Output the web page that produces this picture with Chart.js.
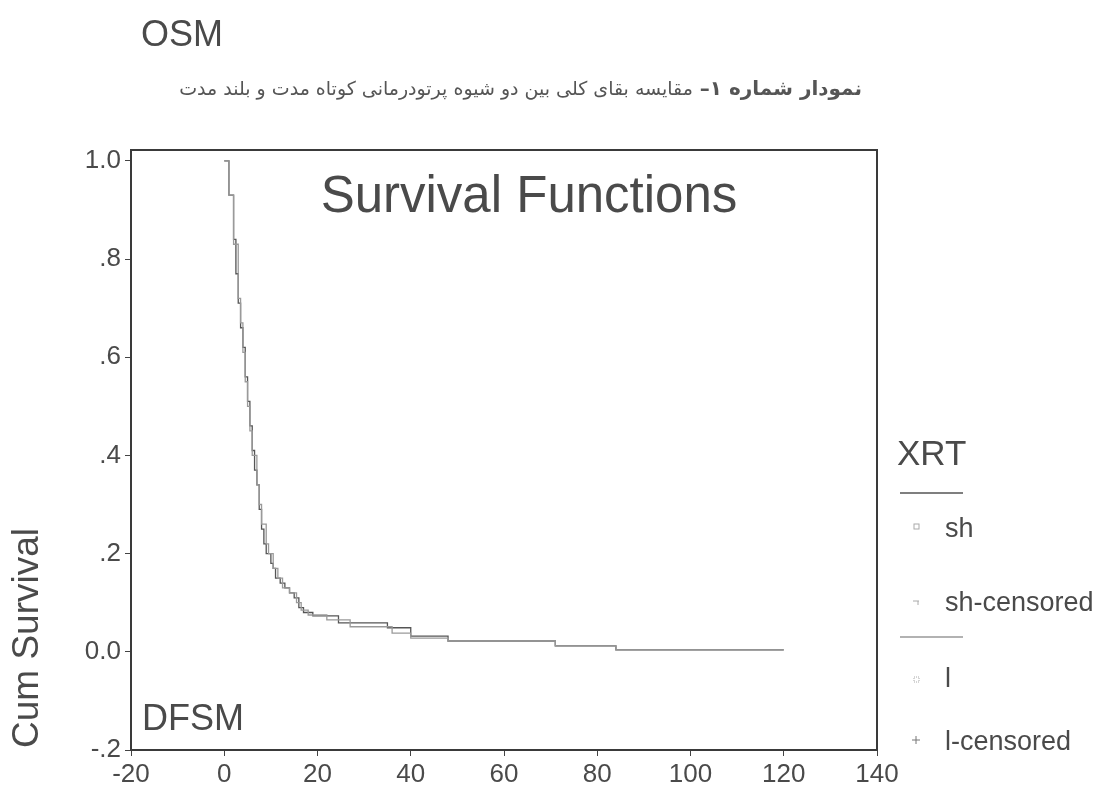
<!DOCTYPE html>
<html>
<head>
<meta charset="utf-8">
<script src="https://cdn.jsdelivr.net/npm/chart.js@4"></script>
<style>
  html, body { margin: 0; padding: 0; background: #fff; }
  #wrap { width: 1111px; height: 795px; position: relative; }
</style>
</head>
<body>
<div id="wrap"><canvas id="chart" width="1111" height="795"></canvas></div>
<script>
// survival curves (time, cum survival)
const shTime = [0, 1, 2, 2.5, 3, 3.5, 4, 4.5, 5, 5.5, 6, 6.5, 7, 7.5, 8, 8.5, 9, 10, 10.5, 11, 12, 13, 14, 15, 16, 17, 19, 24.5, 27, 35, 40, 44, 48, 58, 71, 84, 120];
const shSurv = [1.0, 0.93, 0.84, 0.77, 0.71, 0.66, 0.62, 0.56, 0.51, 0.46, 0.41, 0.37, 0.34, 0.29, 0.25, 0.22, 0.20, 0.18, 0.17, 0.15, 0.14, 0.13, 0.12, 0.11, 0.09, 0.08, 0.073, 0.059, 0.059, 0.049, 0.032, 0.032, 0.022, 0.022, 0.012, 0.004, 0.004];
const lTime  = [0, 1, 2, 3, 3.5, 4, 4.5, 5, 5.5, 6, 7, 7.5, 8, 9, 9.5, 10.5, 11.5, 12.5, 14, 15.5, 16.5, 18, 22, 27, 36, 40, 48, 58, 71, 84, 120];
const lSurv  = [1.0, 0.93, 0.83, 0.72, 0.67, 0.61, 0.55, 0.50, 0.45, 0.40, 0.34, 0.30, 0.26, 0.22, 0.20, 0.17, 0.15, 0.13, 0.12, 0.10, 0.085, 0.075, 0.065, 0.051, 0.038, 0.028, 0.022, 0.022, 0.012, 0.004, 0.004];

const xTicks = [-20, 0, 20, 40, 60, 80, 100, 120, 140];
const yTicks = [-0.2, 0, 0.2, 0.4, 0.6, 0.8, 1.0];
const yTickLabels = ['-.2', '0.0', '.2', '.4', '.6', '.8', '1.0'];

const legendTitle = 'XRT';
const legendItems = ['sh', 'sh-censored', 'l', 'l-censored'];

const FONT = '"Liberation Sans", Arial, sans-serif';
const TEXT = '#4a4a4a';

function toPoints(ts, ss) {
  return ts.map((t, i) => ({ x: t, y: ss[i] }));
}

// extra text, frame and legend drawn on the canvas
const decor = {
  id: 'decor',
  afterDraw(chart) {
    const ctx = chart.ctx;
    const a = chart.chartArea;
    ctx.save();

    // frame
    ctx.strokeStyle = '#3a3a3a';
    ctx.lineWidth = 2;
    ctx.strokeRect(a.left, a.top, a.right - a.left, a.bottom - a.top);

    ctx.fillStyle = TEXT;
    ctx.textBaseline = 'middle';

    ctx.font = '36px ' + FONT;
    ctx.textAlign = 'left';
    ctx.fillText('OSM', 141, 36);

    // persian caption, bold start then the rest
    ctx.direction = 'rtl';
    ctx.textAlign = 'right';
    ctx.fillStyle = '#555';
    ctx.font = 'bold 20px "DejaVu Sans"';
    const head = 'نمودار شماره ۱– ';
    ctx.fillText(head, 862, 90);
    const w = ctx.measureText(head).width;
    ctx.font = '19px "DejaVu Sans"';
    ctx.fillText('مقایسه بقای کلی بین دو شیوه پرتودرمانی کوتاه مدت و بلند مدت', 862 - w, 90);
    ctx.direction = 'ltr';

    ctx.fillStyle = TEXT;
    ctx.font = '51px ' + FONT;
    ctx.textAlign = 'center';
    ctx.fillText('Survival Functions', 529, 198);

    ctx.font = '36px ' + FONT;
    ctx.textAlign = 'left';
    ctx.fillText('DFSM', 142, 720);

    // y axis title
    ctx.save();
    ctx.translate(28, 638);
    ctx.rotate(-Math.PI / 2);
    ctx.textAlign = 'center';
    ctx.font = '37px ' + FONT;
    ctx.fillText('Cum Survival', 0, 0);
    ctx.restore();

    // legend
    ctx.font = '35px ' + FONT;
    ctx.textAlign = 'left';
    ctx.fillText(legendTitle, 897, 455);
    ctx.strokeStyle = '#555';
    ctx.lineWidth = 1.5;
    ctx.beginPath(); ctx.moveTo(900, 493); ctx.lineTo(963, 493); ctx.stroke();
    ctx.strokeStyle = '#999';
    ctx.beginPath(); ctx.moveTo(900, 637); ctx.lineTo(963, 637); ctx.stroke();

    ctx.font = '27px ' + FONT;
    const rows = [530, 604, 680, 743];
    legendItems.forEach((lbl, i) => {
      ctx.fillStyle = TEXT;
      ctx.fillText(lbl, 945, rows[i]);
    });
    ctx.strokeStyle = '#aaa';
    ctx.lineWidth = 1;
    ctx.strokeRect(914, 524, 5, 5);
    ctx.beginPath(); ctx.moveTo(913, 601); ctx.lineTo(919, 601); ctx.moveTo(918, 601); ctx.lineTo(918, 605); ctx.stroke();
    ctx.setLineDash([1, 1]);
    ctx.strokeRect(914, 677, 5, 5);
    ctx.setLineDash([]);
    ctx.strokeStyle = '#777';
    ctx.beginPath(); ctx.moveTo(912, 740); ctx.lineTo(920, 740); ctx.moveTo(916, 736); ctx.lineTo(916, 744); ctx.stroke();

    ctx.restore();
  }
};

new Chart(document.getElementById('chart').getContext('2d'), {
  type: 'line',
  data: {
    datasets: [
      {
        label: 'l',
        data: toPoints(lTime, lSurv),
        stepped: true,
        borderColor: '#9a9a9a',
        borderWidth: 1.3,
        pointRadius: 0,
        fill: false
      },
      {
        label: 'sh',
        data: toPoints(shTime, shSurv),
        stepped: true,
        borderColor: '#555555',
        borderWidth: 1.3,
        pointRadius: 0,
        fill: false
      }
    ]
  },
  options: {
    responsive: false,
    animation: false,
    layout: { padding: { left: 0, top: 150, right: 234, bottom: 0 } },
    plugins: {
      legend: { display: false },
      tooltip: { enabled: false }
    },
    scales: {
      x: {
        type: 'linear',
        min: -20,
        max: 140,
        afterBuildTicks: s => { s.ticks = xTicks.map(v => ({ value: v })); },
        afterFit: s => { s.height = 45; },
        grid: { drawOnChartArea: false, drawTicks: true, tickLength: 6, color: '#444' },
        border: { display: false },
        ticks: { color: TEXT, font: { family: FONT, size: 26 }, padding: 3, maxRotation: 0 }
      },
      y: {
        type: 'linear',
        min: -0.2,
        max: 1.022,
        afterBuildTicks: s => { s.ticks = yTicks.map(v => ({ value: v })); },
        afterFit: s => { s.width = 131; },
        grid: { drawOnChartArea: false, drawTicks: true, tickLength: 6, color: '#444' },
        border: { display: false },
        ticks: {
          color: TEXT,
          font: { family: FONT, size: 26 },
          padding: 4,
          callback: v => {
            const i = yTicks.findIndex(t => Math.abs(t - v) < 1e-6);
            return i >= 0 ? yTickLabels[i] : '';
          }
        }
      }
    }
  },
  plugins: [decor]
});
</script>
</body>
</html>
